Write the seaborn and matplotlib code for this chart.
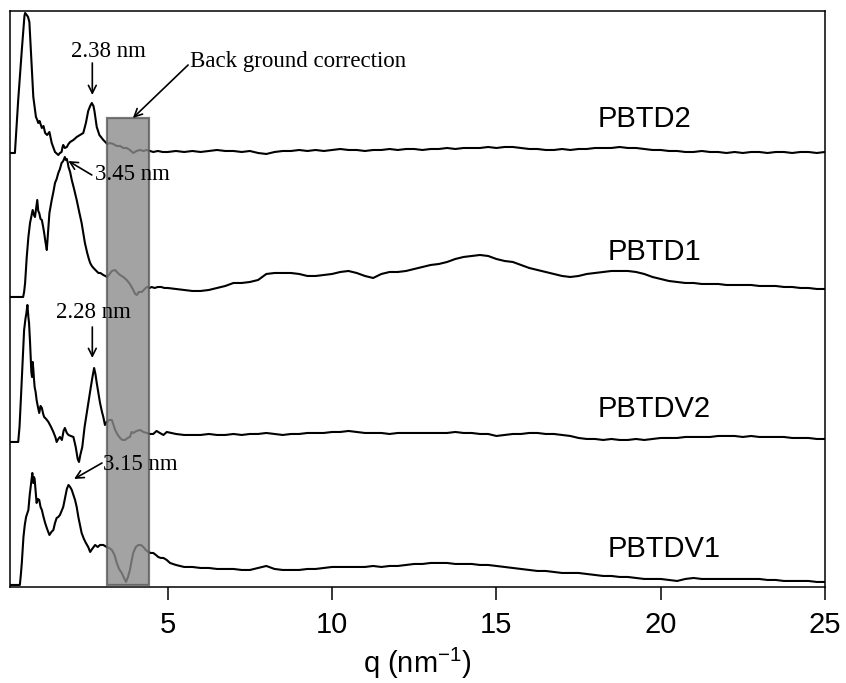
import matplotlib
matplotlib.use("Agg")
import matplotlib.pyplot as plt
from matplotlib.patches import Rectangle
import seaborn as sns
import pandas as pd

# Scattering data (q in nm^-1, intensity in a.u., curves already offset)
samples = ["PBTD2", "PBTD1", "PBTDV2", "PBTDV1"]

q_tail = [5.25, 5.5, 5.75, 6.0, 6.25, 6.5, 6.75, 7.0,
          7.25, 7.5, 7.75, 8.0, 8.25, 8.5, 8.75, 9.0,
          9.25, 9.5, 9.75, 10.0, 10.25, 10.5, 10.75, 11.0,
          11.25, 11.5, 11.75, 12.0, 12.25, 12.5, 12.75, 13.0,
          13.25, 13.5, 13.75, 14.0, 14.25, 14.5, 14.75, 15.0,
          15.25, 15.5, 15.75, 16.0, 16.25, 16.5, 16.75, 17.0,
          17.25, 17.5, 17.75, 18.0, 18.25, 18.5, 18.75, 19.0,
          19.25, 19.5, 19.75, 20.0, 20.25, 20.5, 20.75, 21.0,
          21.25, 21.5, 21.75, 22.0, 22.25, 22.5, 22.75, 23.0,
          23.25, 23.5, 23.75, 24.0, 24.25, 24.5, 24.75, 25.0]

pbtd2_q = [0.20, 0.35, 0.45, 0.56, 0.64, 0.66, 0.71, 0.75, 0.79, 0.86,
           0.91, 0.99, 1.03, 1.06, 1.10, 1.17, 1.22, 1.27, 1.33, 1.40,
           1.47, 1.57, 1.67, 1.72, 1.77, 1.80, 1.82, 1.87, 1.93, 1.98,
           2.03, 2.13, 2.23, 2.33, 2.43, 2.51, 2.58, 2.64, 2.69, 2.74,
           2.77, 2.84, 2.92, 3.04, 3.16, 3.25, 3.34, 3.45, 3.55, 3.65,
           3.75, 3.85, 3.95, 4.05, 4.16, 4.26, 4.36, 4.46, 4.56, 4.70,
           4.85, 5.00]
pbtd2_i = [434, 434, 487, 537, 571, 574, 572, 570, 565, 520,
           490, 470, 467, 464, 466, 459, 461, 454, 452, 455,
           444, 435, 432, 434, 435, 440, 442, 439, 440, 443,
           445, 447, 450, 452, 454, 464, 476, 481, 484, 481,
           476, 460, 452, 447, 443, 444, 443, 441, 441, 439,
           439, 437, 434, 436, 437, 436, 437, 436, 435, 436,
           435, 435]
pbtd2_tail = [436, 435, 436, 435, 436, 437, 436, 436,
              435, 436, 434, 433, 435, 436, 436, 437,
              436, 437, 436, 437, 438, 437, 437, 436,
              437, 437, 438, 437, 438, 438, 437, 438,
              438, 439, 438, 439, 439, 439, 440, 439,
              440, 440, 439, 438, 438, 437, 437, 438,
              437, 438, 438, 439, 439, 439, 440, 439,
              439, 438, 437, 437, 436, 436, 435, 435,
              436, 435, 435, 434, 435, 434, 435, 435,
              434, 435, 435, 434, 435, 435, 434, 435]

pbtd1_q = [0.20, 0.60, 0.63, 0.66, 0.71, 0.76, 0.81, 0.86, 0.89, 0.93,
           0.96, 1.00, 1.03, 1.06, 1.09, 1.13, 1.17, 1.21, 1.24, 1.28,
           1.32, 1.36, 1.40, 1.47, 1.52, 1.57, 1.62, 1.67, 1.72, 1.77,
           1.82, 1.87, 1.90, 1.93, 1.96, 1.98, 2.03, 2.08, 2.15, 2.23,
           2.30, 2.38, 2.44, 2.48, 2.52, 2.55, 2.60, 2.64, 2.69, 2.74,
           2.80, 2.89, 2.95, 3.04, 3.16, 3.30, 3.40, 3.48, 3.55, 3.65,
           3.75, 3.85, 3.95, 4.01, 4.06, 4.12, 4.21, 4.30, 4.36, 4.45,
           4.51, 4.60, 4.70, 4.80, 4.90, 5.00]
pbtd1_i = [290, 290, 295, 304, 330, 350, 364, 372, 377, 372,
           370, 380, 387, 376, 374, 368, 367, 360, 354, 345,
           337, 355, 374, 387, 395, 404, 408, 414, 418, 424,
           426, 430, 427, 428, 424, 420, 415, 407, 398, 387,
           376, 364, 352, 344, 338, 334, 328, 324, 321, 319,
           317, 314, 314, 312, 310, 316, 317, 314, 312, 310,
           307, 303, 297, 293, 292, 295, 295, 298, 300, 299,
           300, 299, 300, 300, 299, 299]
pbtd1_tail = [298, 297, 296, 296, 297, 299, 301, 304,
              304, 305, 307, 313, 314, 314, 314, 313,
              311, 311, 312, 313, 315, 316, 314, 311,
              309, 313, 315, 315, 316, 318, 320, 322,
              323, 325, 328, 330, 331, 332, 331, 328,
              326, 325, 322, 319, 317, 315, 313, 311,
              310, 311, 313, 314, 315, 316, 316, 316,
              315, 313, 310, 308, 306, 305, 304, 304,
              303, 303, 303, 302, 302, 302, 302, 301,
              301, 301, 300, 300, 299, 299, 298, 298]

pbtdv2_q = [0.20, 0.45, 0.49, 0.53, 0.59, 0.63, 0.67, 0.70, 0.73, 0.76,
            0.78, 0.81, 0.83, 0.85, 0.87, 0.89, 0.91, 0.93, 0.95, 0.98,
            1.01, 1.05, 1.09, 1.13, 1.17, 1.21, 1.24, 1.30, 1.37, 1.45,
            1.52, 1.58, 1.62, 1.67, 1.72, 1.78, 1.83, 1.87, 1.93, 1.98,
            2.05, 2.13, 2.20, 2.26, 2.30, 2.34, 2.40, 2.47, 2.55, 2.62,
            2.66, 2.71, 2.76, 2.80, 2.84, 2.89, 2.94, 3.00, 3.04, 3.09,
            3.14, 3.22, 3.30, 3.40, 3.48, 3.55, 3.62, 3.70, 3.78, 3.85,
            3.90, 3.95, 4.05, 4.16, 4.26, 4.36, 4.46, 4.56, 4.66, 4.76,
            4.87, 4.97]
pbtdv2_i = [145, 145, 160, 187, 230, 257, 268, 274, 282, 270,
            264, 245, 230, 215, 210, 225, 218, 208, 200, 195,
            187, 180, 174, 181, 179, 173, 170, 168, 165, 160,
            155, 150, 145, 148, 150, 147, 156, 159, 154, 152,
            151, 150, 140, 128, 125, 132, 140, 160, 177, 192,
            200, 210, 219, 213, 204, 194, 184, 175, 170, 162,
            165, 167, 167, 157, 152, 149, 147, 147, 149, 150,
            155, 154, 156, 157, 155, 154, 153, 153, 156, 154,
            152, 155]
pbtdv2_tail = [153, 152, 152, 152, 153, 152, 152, 153,
               152, 153, 153, 154, 153, 152, 153, 153,
               154, 154, 154, 155, 155, 156, 155, 154,
               154, 154, 153, 154, 154, 154, 154, 154,
               154, 154, 155, 154, 154, 153, 153, 151,
               152, 153, 153, 154, 154, 153, 153, 152,
               151, 149, 148, 148, 147, 148, 147, 147,
               148, 147, 148, 149, 149, 149, 150, 150,
               150, 150, 151, 151, 151, 150, 151, 150,
               150, 150, 150, 149, 149, 149, 148, 148]

pbtdv1_q = [0.20, 0.50, 0.53, 0.56, 0.61, 0.65, 0.69, 0.73, 0.76, 0.80,
            0.83, 0.86, 0.88, 0.90, 0.91, 0.93, 0.95, 0.98, 1.01, 1.05,
            1.09, 1.13, 1.17, 1.22, 1.27, 1.33, 1.40, 1.46, 1.52, 1.57,
            1.62, 1.67, 1.72, 1.77, 1.82, 1.88, 1.93, 1.98, 2.03, 2.08,
            2.13, 2.18, 2.23, 2.28, 2.33, 2.38, 2.45, 2.51, 2.58, 2.64,
            2.70, 2.79, 2.87, 2.94, 3.04, 3.14, 3.22, 3.30, 3.38, 3.45,
            3.52, 3.60, 3.67, 3.73, 3.79, 3.85, 3.90, 3.95, 4.03, 4.11,
            4.18, 4.26, 4.33, 4.41, 4.48, 4.56, 4.64, 4.71, 4.79, 4.87,
            4.97, 5.07]
pbtdv1_i = [2, 2, 12, 24, 50, 62, 70, 74, 77, 92,
            100, 108, 114, 106, 104, 110, 108, 96, 84, 88,
            87, 80, 77, 70, 64, 58, 52, 55, 57, 64,
            69, 70, 72, 76, 80, 90, 98, 102, 100, 97,
            92, 87, 80, 70, 62, 54, 48, 44, 40, 35,
            38, 42, 40, 42, 42, 40, 39, 37, 32, 24,
            18, 14, 9, 5, 10, 17, 26, 34, 40, 42,
            42, 40, 37, 35, 34, 34, 32, 30, 29, 29,
            27, 24]
pbtdv1_tail = [22, 20, 20, 19, 19, 18, 18, 18,
               17, 17, 19, 21, 18, 17, 17, 17,
               18, 18, 19, 20, 20, 20, 20, 20,
               21, 20, 21, 21, 22, 23, 23, 24,
               24, 24, 23, 23, 23, 22, 22, 21,
               20, 19, 18, 17, 16, 16, 15, 14,
               14, 14, 13, 12, 11, 11, 10, 10,
               9, 8, 8, 8, 7, 6, 8, 9,
               8, 8, 8, 8, 8, 8, 8, 8,
               7, 7, 6, 6, 6, 6, 5, 5]

# q range used for the background correction
bg_q = [3.16, 4.44]
x_ticks = [5, 10, 15, 20, 25]

# Build one long table
frames = []
for name, ql, il, it in zip(samples,
                            [pbtd2_q, pbtd1_q, pbtdv2_q, pbtdv1_q],
                            [pbtd2_i, pbtd1_i, pbtdv2_i, pbtdv1_i],
                            [pbtd2_tail, pbtd1_tail, pbtdv2_tail, pbtdv1_tail]):
    frames.append(pd.DataFrame({"q": ql + q_tail, "I": il + it, "sample": name}))
df = pd.concat(frames, ignore_index=True)

sns.set_theme(style="ticks")
plt.rcParams['font.family'] = ['Liberation Sans', 'DejaVu Sans']
plt.rcParams['mathtext.fontset'] = 'custom'
plt.rcParams['mathtext.rm'] = 'Liberation Sans'
plt.rcParams['mathtext.it'] = 'Liberation Sans:italic'
plt.rcParams['text.color'] = 'black'
plt.rcParams['axes.labelcolor'] = 'black'
plt.rcParams['xtick.color'] = 'black'

fig = plt.figure(figsize=(8.46, 6.83), dpi=100)
ax = fig.add_axes([0.0118, 0.1406, 0.9634, 0.8433])

for name in samples:
    sns.lineplot(data=df[df["sample"] == name], x="q", y="I", color="black",
                 lw=1.5, estimator=None, sort=False, ax=ax)

# grey background-correction box on top of curves
ax.add_patch(Rectangle((bg_q[0], 2), bg_q[1] - bg_q[0], 467, facecolor="#8c8c8c",
                       edgecolor="#5a5a5a", lw=1.6, alpha=0.8, zorder=3))

# sample names
label_pos = {"PBTD2": (19.5, 468), "PBTD1": (19.8, 335),
             "PBTDV2": (19.8, 178), "PBTDV1": (20.1, 38)}
for name in samples:
    ax.text(*label_pos[name], name, fontsize=21, ha="center", va="center", color="black")

# peak annotations
serif = ["Liberation Serif", "DejaVu Serif"]
arrow = dict(arrowstyle="->", color="black", lw=1.2, shrinkA=0, shrinkB=0, mutation_scale=14)

ax.text(3.20, 535, "2.38 nm", family=serif, fontsize=16.5, ha="center", va="center", zorder=5)
ax.annotate("", xy=(2.705, 492), xytext=(2.705, 524), arrowprops=arrow, zorder=5)

ax.text(5.68, 525, "Back ground correction", family=serif, fontsize=16.5, ha="left", va="center", zorder=5)
ax.annotate("", xy=(3.94, 469), xytext=(5.62, 522), arrowprops=arrow, zorder=5)

ax.text(2.79, 412, "3.45 nm", family=serif, fontsize=16.5, ha="left", va="center", zorder=5)
ax.annotate("", xy=(1.975, 426), xytext=(2.69, 412), arrowprops=arrow, zorder=5)

ax.text(2.73, 274, "2.28 nm", family=serif, fontsize=16.5, ha="center", va="center", zorder=5)
ax.annotate("", xy=(2.705, 229), xytext=(2.705, 260), arrowprops=arrow, zorder=5)

ax.text(3.03, 122, "3.15 nm", family=serif, fontsize=16.5, ha="left", va="center", zorder=5)
ax.annotate("", xy=(2.15, 108), xytext=(3.0, 124), arrowprops=arrow, zorder=5)

# axes styling
ax.set_xlim(0.2, 25)
ax.set_ylim(0, 576)
ax.set_xticks(x_ticks)
ax.set_xticklabels([str(t) for t in x_ticks])
ax.set_yticks([])
ax.tick_params(axis="x", direction="out", length=9.5, width=1.1, labelsize=21, pad=8,
               colors="black")
for s in ax.spines.values():
    s.set_visible(True)
    s.set_linewidth(1.1)
    s.set_color("black")
ax.set_xlabel("q (nm$^{-1}$)", fontsize=21, labelpad=5, color="black")
ax.set_ylabel("")

fig.savefig("out.png", dpi=100)
